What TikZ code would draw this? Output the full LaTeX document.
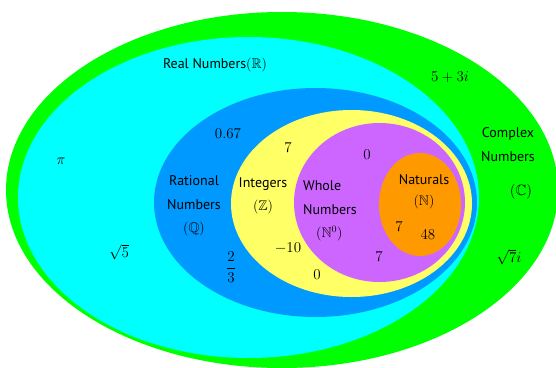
\RequirePackage{fix-cm}
\documentclass[tikz,border=0pt]{standalone}
\usepackage{fontspec}
\setmainfont{PT Sans}
\usepackage{amsmath, amssymb}
\definecolor{cplxgreen}{RGB}{0, 255, 0}
\definecolor{realcyan}{RGB}{0, 255, 255}
\definecolor{ratblue}{RGB}{0, 153, 255}
\definecolor{intyellow}{RGB}{255, 255, 102}
\definecolor{wholepurple}{RGB}{204, 102, 255}
\definecolor{natorange}{RGB}{255, 153, 0}

\begin{document}
\begin{tikzpicture}[
  x=1pt, y=-1pt,
  setlabel/.style={font=\fontsize{14}{23.5}\selectfont, align=center, inner sep=0pt},
  num/.style={font=\fontsize{15}{18}\selectfont, inner sep=0pt}
]
  \useasboundingbox (0, 0) rectangle (556, 367);

  \fill[cplxgreen] (282, 190) ellipse [x radius=276, y radius=178];
  \fill[realcyan] (248.5, 197.5) ellipse [x radius=230.5, y radius=160.5];
  \fill[ratblue] (315.5, 202.5) ellipse [x radius=161.5, y radius=114.5];
  \fill[intyellow] (351.5, 203.5) ellipse [x radius=120.5, y radius=93.5];
  \fill[wholepurple] (379.5, 202.5) ellipse [x radius=85.5, y radius=79.5];
  \fill[natorange] (420, 204.5) ellipse [x radius=41, y radius=51.5];

  \node[setlabel] (reallbl) at (215, 65) {Real Numbers$(\mathbb{R})$};
  \node[num] (pi) at (61, 161) {$\pi$};
  \node[num] (rootfive) at (119, 252) {$\sqrt{5}$};

  \node[num] (fiveplus) at (450, 77) {$5+3i$};
  \node[setlabel] (cplxlbl) at (508, 144.5) {Complex\\Numbers};
  \node[num] (cplxsym) at (521, 192) {$(\mathbb{C})$};
  \node[num] (rootseven) at (509, 257) {$\sqrt{7}i$};

  \node[num] (decimal) at (228, 134) {$0.67$};
  \node[setlabel] (ratlbl) at (194, 206) {Rational\\Numbers\\$(\mathbb{Q})$};
  \node[num] (frac) at (231, 267) {$\dfrac{2}{3}$};

  \node[num] (intseven) at (288, 148) {$7$};
  \node[setlabel] (intlbl) at (263, 196) {Integers\\$(\mathbb{Z})$};
  \node[num] (minusten) at (288, 248) {$-10$};
  \node[num] (intzero) at (317, 275) {$0$};

  \node[num] (wholezero) at (367, 155) {$0$};
  \node[setlabel, align=left] (wholelbl) at (330, 211) {Whole\\Numbers\\\hspace*{13pt}$(\mathbb{N}^0)$};
  \node[num] (wholeseven) at (379, 257) {$7$};

  \node[setlabel, font=\fontsize{14}{21}\selectfont] (natlbl) at (424, 191.5) {Naturals\\$(\mathbb{N})$};
  \node[num] (natseven) at (399, 227) {$7$};
  \node[num] (fortyeight) at (428, 235) {$48$};
\end{tikzpicture}
\end{document}
